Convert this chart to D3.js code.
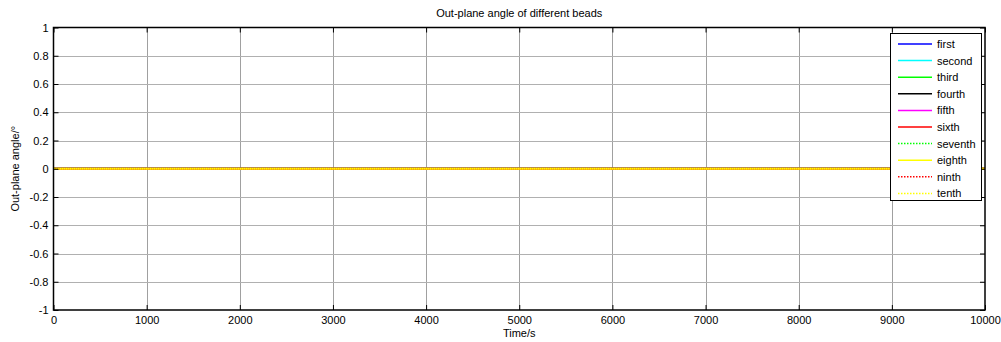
<!DOCTYPE html>
<html>
<head>
<meta charset="utf-8">
<script src="https://cdn.jsdelivr.net/npm/d3@7"></script>
<style>
  html, body { margin: 0; padding: 0; background: #fff; }
  svg { display: block; font-family: "Liberation Sans", Arial, sans-serif; }
</style>
</head>
<body>
<svg id="chart" width="1001" height="342"></svg>
<script>
// Sample times (s)
const times = [0, 1000, 2000, 3000, 4000, 5000, 6000, 7000, 8000, 9000, 10000];

// Out-plane angle of each bead (degrees)
const first   = [0, 0, 0, 0, 0, 0, 0, 0, 0, 0, 0];
const second  = [0, 0, 0, 0, 0, 0, 0, 0, 0, 0, 0];
const third   = [0, 0, 0, 0, 0, 0, 0, 0, 0, 0, 0];
const fourth  = [0, 0, 0, 0, 0, 0, 0, 0, 0, 0, 0];
const fifth   = [0, 0, 0, 0, 0, 0, 0, 0, 0, 0, 0];
const sixth   = [0, 0, 0, 0, 0, 0, 0, 0, 0, 0, 0];
const seventh = [0, 0, 0, 0, 0, 0, 0, 0, 0, 0, 0];
const eighth  = [0, 0, 0, 0, 0, 0, 0, 0, 0, 0, 0];
const ninth   = [0, 0, 0, 0, 0, 0, 0, 0, 0, 0, 0];
const tenth   = [0, 0, 0, 0, 0, 0, 0, 0, 0, 0, 0];

const seriesNames = ["first", "second", "third", "fourth", "fifth", "sixth", "seventh", "eighth", "ninth", "tenth"];
const seriesValues = [first, second, third, fourth, fifth, sixth, seventh, eighth, ninth, tenth];
const seriesColors = ["#0000ff", "#00ffff", "#00ff00", "#000000", "#ff00ff", "#ff0000", "#00ff00", "#ffff00", "#ff0000", "#ffff00"];
const seriesDashed = [false, false, false, false, false, false, true, false, true, true];

const xTicks = [0, 1000, 2000, 3000, 4000, 5000, 6000, 7000, 8000, 9000, 10000];
const yTicks = [-1, -0.8, -0.6, -0.4, -0.2, 0, 0.2, 0.4, 0.6, 0.8, 1];

const svg = d3.select("#chart");
const L = 53.5, R = 985, T = 27.5, B = 310;

const x = d3.scaleLinear().domain([0, 10000]).range([L, R]);
const y = d3.scaleLinear().domain([-1, 1]).range([B, T]);

// Grid
const grid = svg.append("g");
grid.selectAll(".gx").data(xTicks.slice(1, -1)).join("line")
  .attr("x1", d => Math.round(x(d)) + 0.5).attr("x2", d => Math.round(x(d)) + 0.5)
  .attr("y1", T).attr("y2", B)
  .attr("stroke", "#a0a0a0").attr("stroke-width", 1);
grid.selectAll(".gy").data(yTicks.slice(1, -1)).join("line")
  .attr("y1", d => Math.round(y(d)) + 0.5).attr("y2", d => Math.round(y(d)) + 0.5)
  .attr("x1", L).attr("x2", R)
  .attr("stroke", "#b0b0b0").attr("stroke-width", 1);

// Data lines
const line = d3.line().x((d, i) => x(times[i])).y(d => y(d));
seriesValues.forEach((vals, k) => {
  svg.append("path")
    .datum(vals)
    .attr("d", line)
    .attr("fill", "none")
    .attr("stroke", seriesColors[k])
    .attr("stroke-width", 2)
    .attr("stroke-dasharray", seriesDashed[k] ? "2,2" : null);
});

// Axes (ticks inward, MATLAB style)
const fmt = d => String(d);
const axB = d3.axisBottom(x).tickValues(xTicks).tickSizeInner(-5).tickSizeOuter(0).tickPadding(6).tickFormat(fmt);
const axT = d3.axisTop(x).tickValues(xTicks).tickSizeInner(-5).tickSizeOuter(0).tickFormat("");
const axL = d3.axisLeft(y).tickValues(yTicks).tickSizeInner(-5).tickSizeOuter(0).tickPadding(5).tickFormat(fmt);
const axR = d3.axisRight(y).tickValues(yTicks).tickSizeInner(-5).tickSizeOuter(0).tickFormat("");

function style(g) {
  g.select(".domain").remove();
  g.selectAll("line").attr("stroke", "#000");
  g.selectAll("text").attr("fill", "#000").style("font-size", "11px").style("font-family", "Liberation Sans, Arial, sans-serif");
}
svg.append("g").attr("transform", `translate(0,${B})`).call(axB).call(style);
svg.append("g").attr("transform", `translate(0,${T})`).call(axT).call(style);
svg.append("g").attr("transform", `translate(${L},0)`).call(axL).call(style);
svg.append("g").attr("transform", `translate(${R},0)`).call(axR).call(style);

// Frame
svg.append("rect")
  .attr("x", L).attr("y", T).attr("width", R - L).attr("height", B - T)
  .attr("fill", "none").attr("stroke", "#000").attr("stroke-width", 1.5);

// Title and labels
svg.append("text").attr("x", (L + R) / 2).attr("y", 17).attr("text-anchor", "middle")
  .style("font-size", "11px").text("Out-plane angle of different beads");
svg.append("text").attr("x", (L + R) / 2).attr("y", 337).attr("text-anchor", "middle")
  .style("font-size", "11px").text("Time/s");
svg.append("text").attr("transform", `translate(19,${(T + B) / 2}) rotate(-90)`).attr("text-anchor", "middle")
  .style("font-size", "11px").text("Out-plane angle/°");

// Legend
const lg = svg.append("g");
lg.append("rect").attr("x", 890.5).attr("y", 33.5).attr("width", 91).attr("height", 167)
  .attr("fill", "#fff").attr("stroke", "#000").attr("stroke-width", 1);
seriesNames.forEach((name, k) => {
  const yy = 44 + k * 16.6;
  lg.append("line").attr("x1", 898).attr("x2", 932).attr("y1", yy).attr("y2", yy)
    .attr("stroke", seriesColors[k]).attr("stroke-width", 1.5)
    .attr("stroke-dasharray", seriesDashed[k] ? "1.5,1.5" : null);
  lg.append("text").attr("x", 937).attr("y", yy + 4)
    .style("font-size", "11px").text(name);
});
</script>
</body>
</html>
